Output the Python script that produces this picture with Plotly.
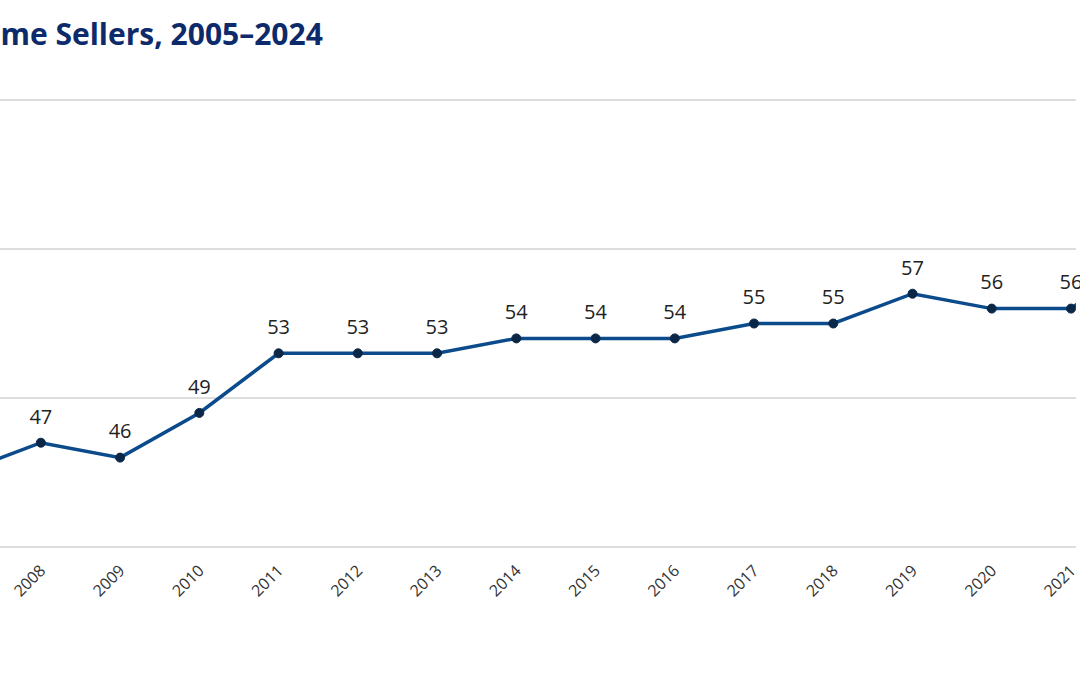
import plotly.graph_objects as go

years = list(range(2005, 2025))
median_age = [46, 46, 45, 47, 46, 49, 53, 53, 53, 54, 54, 54, 55, 55, 57, 56, 56, 60, 60, 63]
title_text = "Median Age of Home Sellers, 2005–2024"
y_ticks = [40, 50, 60, 70]

W, H = 1080, 675
T, B = 97, 125
plot_h = H - T - B

fig = go.Figure()
fig.add_trace(go.Scatter(
    x=years, y=median_age,
    mode="lines+markers",
    line=dict(color="#0b4a8b", width=3.5),
    marker=dict(size=9, color="#0a2748", line=dict(color="#0a2748", width=1)),
    cliponaxis=False,
    hoverinfo="skip",
))
fig.add_trace(go.Scatter(
    x=years, y=median_age,
    mode="markers+text",
    text=[str(v) for v in median_age],
    textposition="top center",
    textfont=dict(family="Open Sans", size=20, color="#222222"),
    marker=dict(size=21, color="rgba(0,0,0,0)"),
    cliponaxis=False,
    hoverinfo="skip",
))

fig.update_layout(
    width=W, height=H,
    margin=dict(l=0, r=0, t=T, b=B),
    paper_bgcolor="white", plot_bgcolor="white",
    showlegend=False,
    xaxis=dict(
        range=[2007.4845, 2021.063],
        tickmode="array", tickvals=years, ticktext=[str(y) for y in years],
        tickangle=-45,
        tickfont=dict(family="Open Sans", size=16, color="#333333"),
        ticklabeloverflow="allow",
        ticklabelstandoff=7,
        showgrid=False, zeroline=False, showline=False, ticks="",
    ),
    yaxis=dict(
        range=[39.8, 70.2],
        tickvals=y_ticks,
        showticklabels=False,
        showgrid=True, gridcolor="#dddddd", gridwidth=1.5,
        zeroline=False, showline=False, ticks="",
    ),
    annotations=[dict(
        text="<b>" + title_text + "</b>",
        xref="paper", yref="paper",
        x=326 / W, y=(H - B - 34) / plot_h,
        xanchor="right", yanchor="middle",
        showarrow=False,
        font=dict(family="Open Sans", size=30, color="#0d2a6b"),
    )],
)

fig.write_html("out.html", config={"displayModeBar": False},
               post_script="document.body.style.margin='0';")
